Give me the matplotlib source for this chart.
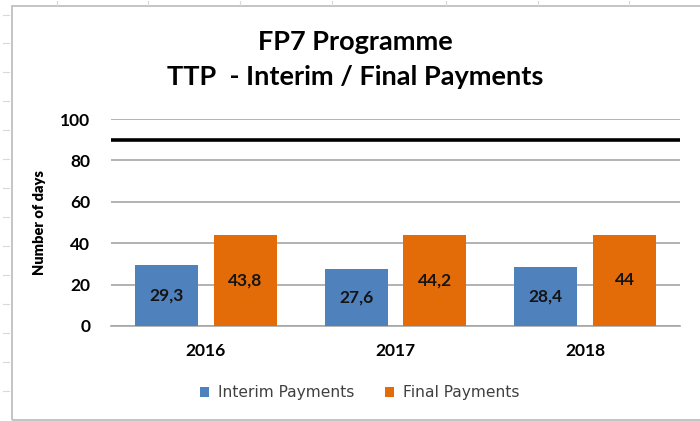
import matplotlib
matplotlib.use("Agg")
import matplotlib.pyplot as plt
import numpy as np
from matplotlib.lines import Line2D
from matplotlib.patches import Rectangle

years = ["2016", "2017", "2018"]
interim = [29.3, 27.6, 28.4]
final = [43.8, 44.2, 44.0]
target = 90
series_names = ["Interim Payments", "Final Payments"]
yticks = [0, 20, 40, 60, 80, 100]

blue = "#4F81BD"
orange = "#E36C09"
grid_c = "#A6A6A6"
TF = ["Lato", "DejaVu Sans"]

W, H = 700, 421
fig = plt.figure(figsize=(W / 100, H / 100), dpi=100)
fig.patch.set_facecolor("white")

# spreadsheet background remnants
for yy in [15, 43, 72, 101, 130, 159, 188, 217, 246, 275, 304, 333, 362, 391]:
    fig.add_artist(Line2D([3 / W, 9 / W], [1 - yy / H, 1 - yy / H], color="#D9D9D9", lw=0.8))
for xx in [57, 148, 240, 332, 446, 538, 629]:
    fig.add_artist(Line2D([xx / W, xx / W], [1 - 1 / H, 1 - 5 / H], color="#D9D9D9", lw=0.8))
# chart border
fig.add_artist(Rectangle((12 / W, 1 - 420 / H), (W + 30 - 12) / W, (420 - 6) / H,
                         fill=False, edgecolor="#BFBFBF", lw=1.3, transform=fig.transFigure))

ax = fig.add_axes([111 / W, 1 - 326 / H, (680 - 111) / W, (326 - 119) / H])
x = np.arange(len(years))
bw = 0.332
off = 0.208
b1 = ax.bar(x - off, interim, bw, color=blue, label=series_names[0], zorder=3)
b2 = ax.bar(x + off, final, bw, color=orange, label=series_names[1], zorder=3)
ax.plot([-0.5, len(years) - 0.5], [target, target], color="black", lw=2.6, zorder=4)

for bars, vals in ((b1, interim), (b2, final)):
    for r, v in zip(bars, vals):
        s = f"{v:g}".replace(".", ",")
        ax.text(r.get_x() + r.get_width() / 2, v / 2, s, ha="center", va="center",
                fontsize=12.5, fontweight="bold", family=TF, color="#141414", zorder=5)

ax.set_xlim(-0.5, len(years) - 0.5)
ax.set_ylim(0, 100)
ax.set_yticks(yticks)
ax.set_yticklabels([str(t) for t in yticks], fontsize=12.5, fontweight="bold", family=TF)
ax.set_xticks(x)
ax.set_xticklabels(years, fontsize=12.5, fontweight="bold", family=TF)
ax.tick_params(axis="both", length=0)
ax.tick_params(axis="y", pad=15)
ax.tick_params(axis="x", pad=12)
ax.yaxis.grid(True, color=grid_c, lw=1.2, zorder=0)
ax.set_axisbelow(True)
for sp in ["top", "right", "left"]:
    ax.spines[sp].set_visible(False)
ax.spines["bottom"].set_color(grid_c)
ax.spines["bottom"].set_linewidth(1.2)
ax.set_ylabel("Number of days", fontsize=10.5, fontweight="heavy", family=TF, labelpad=10)

fig.text(355 / W, 1 - 42 / H, "FP7 Programme", ha="center", va="center",
         fontsize=19.5, fontweight="bold", family=TF)
fig.text(355 / W, 1 - 77 / H, "TTP  - Interim / Final Payments", ha="center", va="center",
         fontsize=19.5, fontweight="bold", family=TF)

leg = fig.legend(handles=[b1, b2], loc="center", bbox_to_anchor=(360 / W, 1 - 393 / H),
                 ncol=2, frameon=False, prop={"family": "DejaVu Sans", "size": 11.2},
                 handlelength=0.55, handleheight=0.55, handletextpad=0.6, columnspacing=2.0)
for t in leg.get_texts():
    t.set_color("#404040")

fig.savefig("out.png", dpi=100)
